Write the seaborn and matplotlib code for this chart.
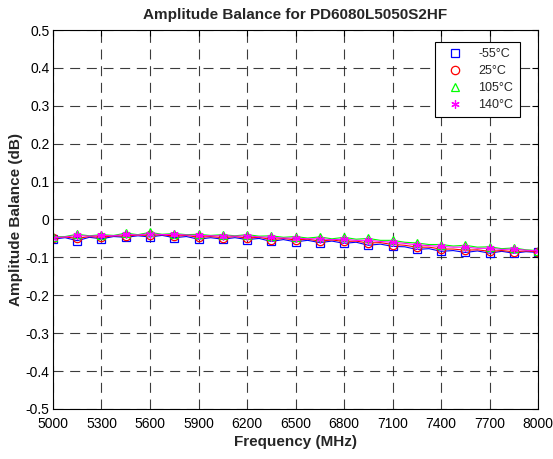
import numpy as np
import pandas as pd
import matplotlib
matplotlib.use("Agg")
import matplotlib.pyplot as plt
import seaborn as sns

# частоты, МГц (шаг 75), маркеры через точку
freq = [5000 + 75 * i for i in range(41)]

bal_m55 = [-0.052, -0.048, -0.056, -0.047, -0.051, -0.045, -0.047, -0.043, -0.046, -0.042,
           -0.048, -0.045, -0.052, -0.048, -0.052, -0.048, -0.053, -0.050, -0.058, -0.053,
           -0.059, -0.055, -0.061, -0.057, -0.063, -0.060, -0.068, -0.065, -0.071, -0.072,
           -0.079, -0.077, -0.084, -0.082, -0.087, -0.083, -0.089, -0.084, -0.089, -0.085, -0.087]
bal_25 = [-0.049, -0.046, -0.050, -0.045, -0.047, -0.043, -0.044, -0.041, -0.042, -0.040,
          -0.044, -0.042, -0.047, -0.045, -0.048, -0.045, -0.049, -0.047, -0.053, -0.050,
          -0.054, -0.052, -0.057, -0.054, -0.058, -0.057, -0.062, -0.061, -0.066, -0.068,
          -0.073, -0.073, -0.078, -0.078, -0.081, -0.080, -0.084, -0.082, -0.085, -0.083, -0.085]
bal_105 = [-0.046, -0.045, -0.039, -0.043, -0.040, -0.042, -0.036, -0.040, -0.034, -0.039,
           -0.037, -0.040, -0.039, -0.042, -0.040, -0.043, -0.040, -0.044, -0.043, -0.047,
           -0.045, -0.049, -0.046, -0.051, -0.047, -0.052, -0.050, -0.055, -0.055, -0.060,
           -0.062, -0.066, -0.066, -0.070, -0.068, -0.073, -0.072, -0.077, -0.075, -0.080, -0.082]
bal_140 = [-0.048, -0.046, -0.042, -0.044, -0.042, -0.043, -0.039, -0.041, -0.037, -0.040,
           -0.039, -0.041, -0.042, -0.043, -0.043, -0.044, -0.043, -0.046, -0.047, -0.049,
           -0.049, -0.051, -0.051, -0.053, -0.052, -0.055, -0.055, -0.058, -0.060, -0.063,
           -0.067, -0.069, -0.071, -0.073, -0.073, -0.076, -0.076, -0.079, -0.078, -0.081, -0.083]

labels = ["-55°C", "25°C", "105°C", "140°C"]
colors = ["#0000ff", "#ff0000", "#00ff00", "#ff00ff"]
markers = ["s", "o", "^", (6, 2, 0)]

xticks = list(range(5000, 8001, 300))
yticks = [round(-0.5 + 0.1 * i, 1) for i in range(11)]

sns.set_style("white")
plt.rcParams['font.family'] = ['Liberation Sans', 'DejaVu Sans']

fig = plt.figure(figsize=(5.53, 4.59), dpi=100)
ax = fig.add_axes([0.0958, 0.109, 0.8772, 0.8256])

for vals, lab, col, mk in zip([bal_m55, bal_25, bal_105, bal_140], labels, colors, markers):
    df = pd.DataFrame({"f": freq, "b": vals})
    sns.lineplot(data=df, x="f", y="b", ax=ax, color=col, lw=0.8, label=lab,
                 marker=mk, markevery=2, markersize=6, markerfacecolor="none",
                 markeredgecolor=col, markeredgewidth=0.9)

ax.set_xlim(5000, 8000)
ax.set_ylim(-0.5, 0.5)
ax.set_xticks(xticks)
ax.set_yticks(yticks)
ax.set_yticklabels(["%g" % v for v in yticks])
ax.tick_params(direction="in", length=4, top=True, right=True, labelsize=10, colors="black")
ax.tick_params(axis="x", pad=6)
ax.tick_params(axis="y", pad=2.5)
ax.grid(True, color="#1a1a1a", linestyle=(0, (9, 6)), linewidth=0.8, alpha=0.85)
for s in ax.spines.values():
    s.set_color("black")
    s.set_linewidth(0.8)

ax.set_title("Amplitude Balance for PD6080L5050S2HF", fontsize=11, fontweight="bold", pad=8)
ax.set_xlabel("Frequency (MHz)", fontsize=11, fontweight="bold", labelpad=3)
ax.set_ylabel("Amplitude Balance (dB)", fontsize=11, fontweight="bold", labelpad=2)

leg = ax.legend(loc="upper right", bbox_to_anchor=(0.975, 0.985), fontsize=9, frameon=True,
                fancybox=False, edgecolor="black", framealpha=1, handlelength=2.2,
                handletextpad=0.8, borderpad=0.5, labelspacing=0.4)
leg.get_frame().set_linewidth(0.8)
for h in leg.get_lines():
    h.set_linestyle("none")

plt.savefig("out.png", dpi=100)
plt.close()
